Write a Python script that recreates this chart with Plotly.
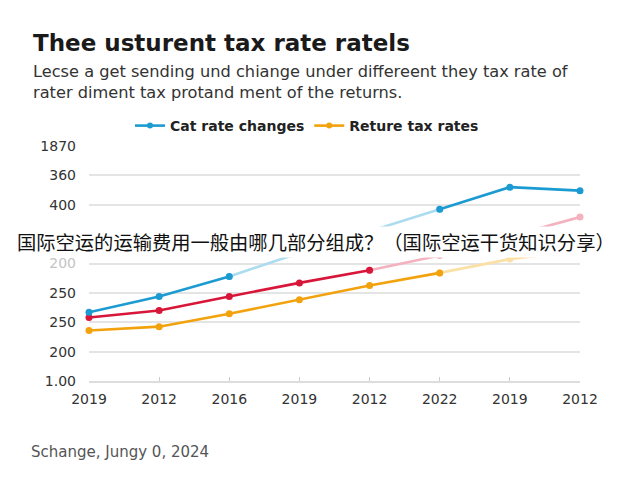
import plotly.graph_objects as go

# ---- data ----
categories = ["2019", "2012", "2016", "2019", "2012", "2022", "2019", "2012"]
y_tick_labels = ["1.00", "200", "250", "250", "200", "", "400", "360", "1870"]
cat_rate_changes = [2.34, 2.88, 3.56, 4.36, 5.10, 5.85, 6.60, 6.48]
middle_series = [2.16, 2.40, 2.88, 3.34, 3.77, 4.27, 4.93, 5.58]
return_tax_rates = [1.72, 1.85, 2.29, 2.77, 3.25, 3.68, 4.15, 4.45]
subtitle_lines = ["Lecse a get sending und chiange under differeent they tax rate of",
                  "rater diment tax protand ment of the returns."]

# ---- layout helpers (page has an 8px body margin) ----
OFF = 8
W, H = 640 - OFF, 480 - OFF
L, R, T, B = 81, 60, 138, 99
PW, PH = W - L - R, H - T - B

def px(x):
    return (x - OFF - L) / PW

def py(y):
    return (H - B - (y - OFF)) / PH

xs = list(range(len(categories)))
FONT = "DejaVu Sans, Liberation Sans, Arial, sans-serif"

fig = go.Figure()

def seg(values, i0, i1, color):
    fig.add_trace(go.Scatter(
        x=xs[i0:i1 + 1], y=values[i0:i1 + 1],
        mode="lines+markers",
        line=dict(color=color, width=2.6),
        marker=dict(color=color, size=7),
        showlegend=False, cliponaxis=False, hoverinfo="skip",
    ))

BLUE, LBLUE = "#1b9bd1", "#acdcef"
RED, PINK = "#d8163a", "#f4b1be"
ORANGE, LYELLOW = "#f2a20c", "#fbe0a6"

# light segments first, dark on top
seg(return_tax_rates, 5, 7, LYELLOW)
seg(return_tax_rates, 0, 5, ORANGE)
seg(middle_series, 4, 7, PINK)
seg(middle_series, 0, 4, RED)
seg(cat_rate_changes, 2, 5, LBLUE)
seg(cat_rate_changes, 0, 2, BLUE)
seg(cat_rate_changes, 5, 7, BLUE)

# legend entries
for nm, col in [("Cat rate changes", BLUE), ("Reture tax rates", ORANGE)]:
    fig.add_trace(go.Scatter(
        x=[None], y=[None], mode="lines+markers",
        line=dict(color=col, width=2.6), marker=dict(color=col, size=6),
        name=nm, showlegend=True))

ticktext = list(y_tick_labels)
ticktext[4] = "<span style='color:#c4c4c4'>" + ticktext[4] + "</span>"

annotations = [
    dict(text="<b>Thee usturent tax rate ratels</b>", x=px(31), y=py(43),
         xref="paper", yref="paper", xanchor="left", yanchor="middle", showarrow=False,
         font=dict(size=23, color="#1a1a1a")),
    dict(text="<br>".join(subtitle_lines), x=px(31), y=py(82),
         xref="paper", yref="paper", xanchor="left", yanchor="middle", align="left",
         showarrow=False, font=dict(size=16.2, color="#333")),
    dict(text="Schange, Jungy 0, 2024", x=px(29), y=py(452),
         xref="paper", yref="paper", xanchor="left", yanchor="middle", showarrow=False,
         font=dict(size=15, color="#555")),
    dict(text="国际空运的运输费用一般由哪几部分组成？（国际空运干货知识分享）",
         x=px(315.5), y=py(242), xref="paper", yref="paper", xanchor="center", yanchor="middle",
         showarrow=False, bgcolor="white",
         font=dict(family="Noto Sans CJK SC", size=19.3, color="#111")),
]

fig.update_layout(
    width=W, height=H,
    margin=dict(l=L, r=R, t=T, b=B),
    paper_bgcolor="white", plot_bgcolor="white",
    font=dict(family=FONT, color="#333"),
    showlegend=True,
    legend=dict(orientation="h", x=px(130), y=py(126), xanchor="left", yanchor="middle",
                font=dict(size=14, color="#222", weight="bold"), itemwidth=30,
                bgcolor="rgba(0,0,0,0)", traceorder="normal"),
    xaxis=dict(range=[0, 7], tickmode="array", tickvals=xs, ticktext=categories,
               showgrid=False, zeroline=False, showline=True, linecolor="#dddddd", linewidth=1.5,
               ticks="inside", ticklen=4, tickcolor="#cccccc", ticklabelstandoff=4,
               tickfont=dict(size=14, color="#333")),
    yaxis=dict(range=[0, 8], tickmode="array", tickvals=list(range(len(y_tick_labels))),
               ticktext=ticktext, showgrid=True, gridcolor="#e4e4e4", gridwidth=1.5,
               zeroline=False, showline=False, ticks="", ticklabelstandoff=12,
               tickfont=dict(size=14, color="#333")),
    annotations=annotations,
)

fig.write_html("out.html")
